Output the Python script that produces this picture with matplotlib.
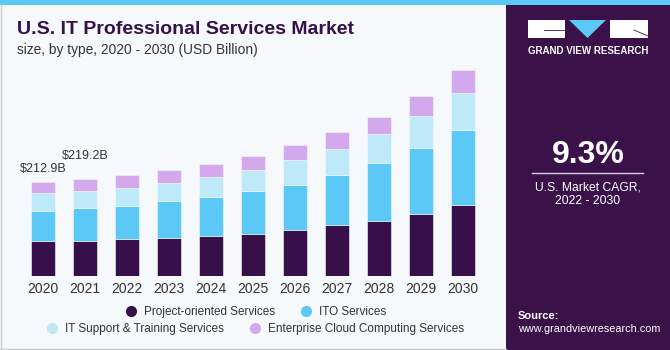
import numpy as np
import matplotlib
matplotlib.use('Agg')
import matplotlib.pyplot as plt
from matplotlib.patches import Rectangle, Polygon
from matplotlib.lines import Line2D
from matplotlib.colors import LinearSegmentedColormap

years = ['2020', '2021', '2022', '2023', '2024', '2025',
         '2026', '2027', '2028', '2029', '2030']
project_oriented = [78.0, 78.5, 82.9, 86.6, 90.4, 95.6, 104.0, 114.6, 125.0, 140.8, 161.1]
ito_services = [69.5, 76.3, 75.9, 82.9, 88.1, 96.5, 102.4, 113.7, 130.4, 149.2, 168.8]
it_support = [40.3, 38.2, 40.7, 40.7, 45.2, 48.1, 55.8, 58.1, 65.5, 71.6, 83.6]
cloud_computing = [25.1, 26.2, 28.7, 29.4, 30.1, 31.0, 34.6, 39.1, 39.1, 45.2, 52.7]
series_names = ['Project-oriented Services', 'ITO Services',
                'IT Support & Training Services', 'Enterprise Cloud Computing Services']
total_labels = {0: '$212.9B', 1: '$219.2B'}

colors = ['#37104a', '#5bc8f5', '#bde9f9', '#d4a8ec']
bg = '#f5f9fc'
panel = '#3a1249'
W, H = 670, 350

plt.rcParams['font.family'] = ['Liberation Sans', 'DejaVu Sans']


def fx(px):
    return px / W


def fy(py):
    return 1 - py / H


fig = plt.figure(figsize=(6.7, 3.5), dpi=100)
fig.patch.set_facecolor(bg)

# bar chart
ax = fig.add_axes([fx(15), fy(276), fx(490) - fx(15), fy(60) - fy(276)])
ax.set_facecolor(bg)
x = np.arange(len(years))
bottom = np.zeros(len(years))
for vals, c in zip([project_oriented, ito_services, it_support, cloud_computing], colors):
    ax.bar(x, vals, width=0.57, bottom=bottom, color=c,
           edgecolor=bg, linewidth=0.4)
    bottom += np.array(vals)

offsets = {0: 13, 1: 23}
for i, lab in total_labels.items():
    ax.annotate(lab, (x[i], bottom[i]), xytext=(0, offsets[i]),
                textcoords='offset pixels', ha='center', va='center',
                fontsize=9, color='#333333')

ax.set_xlim(-0.667, 10.643)
ax.set_ylim(0, 216 * 2.26)
ax.set_xticks(x)
ax.set_xticklabels(years, fontsize=10, color='#333333')
ax.tick_params(axis='x', length=0, pad=4)
ax.set_yticks([])
for s in ax.spines.values():
    s.set_visible(False)

# legends
handles = [Line2D([], [], marker='o', linestyle='', markersize=7,
                  color=c) for c in colors]
fig.legend(handles[:2], series_names[:2], ncol=2, loc='center',
           bbox_to_anchor=(fx(253), fy(312)), frameon=False,
           fontsize=8.5, handletextpad=0.1, columnspacing=1.6,
           labelcolor='#333333')
fig.legend(handles[2:], series_names[2:], ncol=2, loc='center',
           bbox_to_anchor=(fx(252), fy(329)), frameon=False,
           fontsize=8.5, handletextpad=0.1, columnspacing=1.6,
           labelcolor='#333333')

# title
fig.text(fx(17), fy(30), 'U.S. IT Professional Services Market',
         fontsize=14, fontweight='bold', color='#37104a', va='center')
fig.text(fx(17), fy(50), 'size, by type, 2020 - 2030 (USD Billion)',
         fontsize=9.9, color='#333333', va='center')

# top stripe and borders
fig.add_artist(Rectangle((0, fy(5)), 1, fy(0) - fy(5), transform=fig.transFigure,
                         color='#5bc8f5', lw=0))
fig.add_artist(Line2D([0, fx(506)], [fy(348.5)] * 2, transform=fig.transFigure,
                      color='#cccccc', lw=1))
fig.add_artist(Line2D([fx(0.5)] * 2, [0, fy(5)], transform=fig.transFigure,
                      color='#cccccc', lw=1))

# right panel
fig.add_artist(Rectangle((fx(506), 0), fx(670) - fx(506), fy(5), transform=fig.transFigure,
                         color=panel, lw=0))
gax = fig.add_axes([fx(506), 0, fx(670) - fx(506), fy(280)])
grad = np.linspace(0, 1, 100)[:, None]
cmap = LinearSegmentedColormap.from_list('g', [panel, '#3d3a7a', '#4a78b4', '#5aaee0'])
gax.imshow(grad, aspect='auto', cmap=cmap, extent=[0, 1, 0, 1], origin='upper')
for k in range(1, 14):
    gax.plot([k / 13 - 0.3, k / 13 * 1.6 - 0.3], [0.75, 0], color='white', alpha=0.1, lw=0.6)
for yy in [0.7, 0.58, 0.45, 0.3, 0.15]:
    gax.plot([0, 1], [yy, yy], color='white', alpha=0.1, lw=0.6)
gax.set_xlim(0, 1)
gax.set_ylim(0, 1)
gax.axis('off')

# logo
fig.add_artist(Rectangle((fx(528), fy(38)), fx(565) - fx(528), fy(20) - fy(38),
                         transform=fig.transFigure, color='white', lw=0))
fig.add_artist(Rectangle((fx(610), fy(38)), fx(648) - fx(610), fy(20) - fy(38),
                         transform=fig.transFigure, color='white', lw=0))
fig.add_artist(Polygon([(fx(569), fy(20)), (fx(606), fy(20)), (fx(587.5), fy(38))],
                       transform=fig.transFigure, color='#5bc8f5', lw=0))
fig.add_artist(Line2D([fx(544), fx(565)], [fy(30)] * 2, transform=fig.transFigure,
                      color=panel, lw=0.6))
fig.add_artist(Line2D([fx(634), fx(648)], [fy(30), fy(36)], transform=fig.transFigure,
                      color=panel, lw=0.6))
fig.text(fx(588), fy(51), 'GRAND VIEW RESEARCH', fontsize=7, fontweight='bold',
         color='white', ha='center', va='center')

fig.text(fx(588), fy(155), '9.3%', fontsize=23, fontweight='bold',
         color='white', ha='center', va='center')
fig.add_artist(Line2D([fx(532), fx(643)], [fy(173)] * 2, transform=fig.transFigure,
                      color='#d8d0e0', lw=1))
fig.text(fx(588), fy(187), 'U.S. Market CAGR,', fontsize=8.7,
         color='white', ha='center', va='center')
fig.text(fx(588), fy(201), '2022 - 2030', fontsize=8.7,
         color='white', ha='center', va='center')
fig.text(fx(518), fy(316), 'Source:', fontsize=8, fontweight='bold',
         color='white', va='center')
fig.text(fx(518), fy(329), 'www.grandviewresearch.com', fontsize=7.8,
         color='white', va='center')

fig.savefig('out.png', dpi=100, facecolor=bg)
plt.close()
